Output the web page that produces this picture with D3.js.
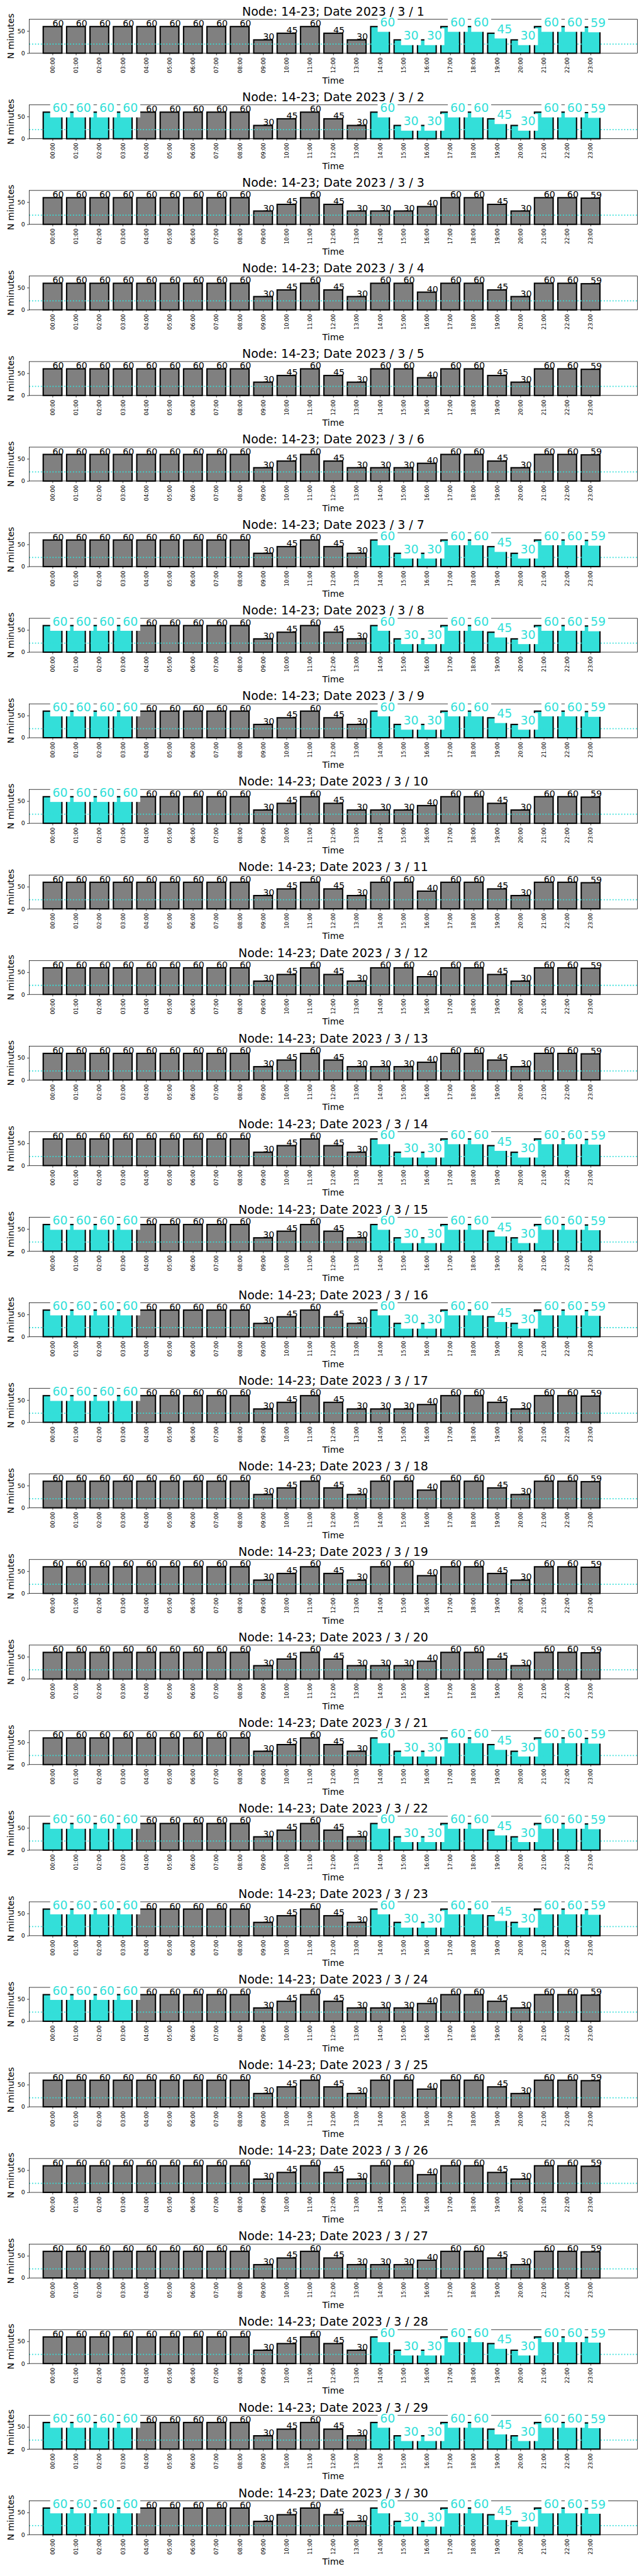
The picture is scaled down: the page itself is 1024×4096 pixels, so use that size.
<!DOCTYPE html>
<html><head><meta charset="utf-8">
<script src="https://cdn.jsdelivr.net/npm/d3@7"></script>
<style>body{margin:0;background:#fff} svg{display:block} text{font-family:"DejaVu Sans",sans-serif}</style>
</head><body>
<script>
// ---- data ----
const hours = ["00:00","01:00","02:00","03:00","04:00","05:00","06:00","07:00","08:00","09:00","10:00","11:00",
               "12:00","13:00","14:00","15:00","16:00","17:00","18:00","19:00","20:00","21:00","22:00","23:00"];
const node = "14-23";
const dayOfMonth = [1,2,3,4,5,6,7,8,9,10,11,12,13,14,15,16,17,18,19,20,21,22,23,24,25,26,27,28,29,30];
const minutes = [
  [60,60,60,60,60,60,60,60,60,30,45,60,45,30,60,30,30,60,60,45,30,60,60,59], // 1
  [60,60,60,60,60,60,60,60,60,30,45,60,45,30,60,30,30,60,60,45,30,60,60,59], // 2
  [60,60,60,60,60,60,60,60,60,30,45,60,45,30,30,30,40,60,60,45,30,60,60,59], // 3
  [60,60,60,60,60,60,60,60,60,30,45,60,45,30,60,60,40,60,60,45,30,60,60,59], // 4
  [60,60,60,60,60,60,60,60,60,30,45,60,45,30,60,60,40,60,60,45,30,60,60,59], // 5
  [60,60,60,60,60,60,60,60,60,30,45,60,45,30,30,30,40,60,60,45,30,60,60,59], // 6
  [60,60,60,60,60,60,60,60,60,30,45,60,45,30,60,30,30,60,60,45,30,60,60,59], // 7
  [60,60,60,60,60,60,60,60,60,30,45,60,45,30,60,30,30,60,60,45,30,60,60,59], // 8
  [60,60,60,60,60,60,60,60,60,30,45,60,45,30,60,30,30,60,60,45,30,60,60,59], // 9
  [60,60,60,60,60,60,60,60,60,30,45,60,45,30,30,30,40,60,60,45,30,60,60,59], // 10
  [60,60,60,60,60,60,60,60,60,30,45,60,45,30,60,60,40,60,60,45,30,60,60,59], // 11
  [60,60,60,60,60,60,60,60,60,30,45,60,45,30,60,60,40,60,60,45,30,60,60,59], // 12
  [60,60,60,60,60,60,60,60,60,30,45,60,45,30,30,30,40,60,60,45,30,60,60,59], // 13
  [60,60,60,60,60,60,60,60,60,30,45,60,45,30,60,30,30,60,60,45,30,60,60,59], // 14
  [60,60,60,60,60,60,60,60,60,30,45,60,45,30,60,30,30,60,60,45,30,60,60,59], // 15
  [60,60,60,60,60,60,60,60,60,30,45,60,45,30,60,30,30,60,60,45,30,60,60,59], // 16
  [60,60,60,60,60,60,60,60,60,30,45,60,45,30,30,30,40,60,60,45,30,60,60,59], // 17
  [60,60,60,60,60,60,60,60,60,30,45,60,45,30,60,60,40,60,60,45,30,60,60,59], // 18
  [60,60,60,60,60,60,60,60,60,30,45,60,45,30,60,60,40,60,60,45,30,60,60,59], // 19
  [60,60,60,60,60,60,60,60,60,30,45,60,45,30,30,30,40,60,60,45,30,60,60,59], // 20
  [60,60,60,60,60,60,60,60,60,30,45,60,45,30,60,30,30,60,60,45,30,60,60,59], // 21
  [60,60,60,60,60,60,60,60,60,30,45,60,45,30,60,30,30,60,60,45,30,60,60,59], // 22
  [60,60,60,60,60,60,60,60,60,30,45,60,45,30,60,30,30,60,60,45,30,60,60,59], // 23
  [60,60,60,60,60,60,60,60,60,30,45,60,45,30,30,30,40,60,60,45,30,60,60,59], // 24
  [60,60,60,60,60,60,60,60,60,30,45,60,45,30,60,60,40,60,60,45,30,60,60,59], // 25
  [60,60,60,60,60,60,60,60,60,30,45,60,45,30,60,60,40,60,60,45,30,60,60,59], // 26
  [60,60,60,60,60,60,60,60,60,30,45,60,45,30,30,30,40,60,60,45,30,60,60,59], // 27
  [60,60,60,60,60,60,60,60,60,30,45,60,45,30,60,30,30,60,60,45,30,60,60,59], // 28
  [60,60,60,60,60,60,60,60,60,30,45,60,45,30,60,30,30,60,60,45,30,60,60,59], // 29
  [60,60,60,60,60,60,60,60,60,30,45,60,45,30,60,30,30,60,60,45,30,60,60,59]  // 30
];
const eveningHours = [14,15,16,17,18,19,20,21,22,23];
const nightHours = [0,1,2,3];
const highlighted = [
  eveningHours, nightHours.concat(eveningHours), [], [], [], [], eveningHours,
  nightHours.concat(eveningHours), nightHours.concat(eveningHours), nightHours, [], [], [], eveningHours,
  nightHours.concat(eveningHours), nightHours.concat(eveningHours), nightHours, [], [], [], eveningHours,
  nightHours.concat(eveningHours), nightHours.concat(eveningHours), nightHours, [], [], [], eveningHours,
  nightHours.concat(eveningHours), nightHours.concat(eveningHours)
];
const threshold = 20.5;
const yTickValues = [0, 50];
const yMax = 76.4;

// ---- layout (reference pixel units, scaled to window) ----
const S = 0.682;
const CYAN = "#33dfd9", GRAY = "#808080";
const left = 68, right = 1486, axTop = 45, axH = 79, step = 199.5;
const cx = (left + right) / 2;

const svg = d3.select("body").append("svg").attr("width", 1024).attr("height", 4096);
svg.append("rect").attr("width", 1024).attr("height", 4096).attr("fill", "#fff");
const root = svg.append("g").attr("transform", `scale(${S})`);

const x = d3.scaleLinear().domain([-1, 25]).range([left, right]);
const y = d3.scaleLinear().domain([0, yMax]).range([axTop + axH, axTop]);
const bw = x(0.8) - x(0);

dayOfMonth.forEach((d, i) => {
  const g = root.append("g").attr("transform", `translate(0,${i * step})`);
  const vals = minutes[i];
  const hl = new Set(highlighted[i]);

  // bars
  g.selectAll("rect.bar").data(vals).join("rect").attr("class", "bar")
    .attr("x", (v, j) => x(j) - bw / 2).attr("width", bw)
    .attr("y", v => y(v)).attr("height", v => y(0) - y(v))
    .attr("fill", (v, j) => hl.has(j) ? CYAN : GRAY)
    .attr("stroke", "#000").attr("stroke-width", 3);

  // dotted threshold line
  g.append("line").attr("x1", left).attr("x2", right)
    .attr("y1", y(threshold)).attr("y2", y(threshold))
    .attr("stroke", CYAN).attr("stroke-width", 2.6).attr("stroke-dasharray", "2.6,4.2");

  // spines
  g.append("rect").attr("x", left).attr("y", axTop).attr("width", right - left).attr("height", axH)
    .attr("fill", "none").attr("stroke", "#000").attr("stroke-width", 1.1);

  // x axis
  const xa = g.append("g").attr("transform", `translate(0,${y(0)})`)
    .call(d3.axisBottom(x).tickValues(d3.range(24)).tickFormat(j => hours[j]).tickSize(4.9).tickPadding(4.9));
  xa.select(".domain").remove();
  xa.selectAll(".tick line").attr("stroke", "#000").attr("stroke-width", 1.1);
  xa.selectAll(".tick text").attr("transform", "rotate(-90)").attr("text-anchor", "end")
    .attr("x", -9.8).attr("y", 0).attr("dy", "0.35em")
    .attr("font-size", 12.7).attr("font-family", "DejaVu Sans").attr("fill", "#000");

  // y axis
  const ya = g.append("g").attr("transform", `translate(${left},0)`)
    .call(d3.axisLeft(y).tickValues(yTickValues).tickSize(4.9).tickPadding(4.9));
  ya.select(".domain").remove();
  ya.selectAll(".tick line").attr("stroke", "#000").attr("stroke-width", 1.1);
  ya.selectAll(".tick text").attr("font-size", 13.9).attr("font-family", "DejaVu Sans").attr("fill", "#000");

  // value labels
  vals.forEach((v, j) => {
    if (hl.has(j)) {
      const fs = 27.8, pad = 5.56;
      const t = g.append("text").attr("x", x(j)).attr("y", y(v))
        .attr("font-size", fs).attr("fill", CYAN).text(v);
      const w = t.node().getComputedTextLength();
      g.insert("rect", () => t.node())
        .attr("x", x(j) - pad).attr("width", w + 2 * pad)
        .attr("y", y(v) - 0.76 * fs - pad).attr("height", (0.76 + 0.24) * fs + 2 * pad)
        .attr("fill", "#fff");
    } else {
      g.append("text").attr("x", x(j)).attr("y", y(v))
        .attr("font-size", 20.8).attr("fill", "#000").text(v);
    }
  });

  // title and axis labels
  g.append("text").attr("x", cx).attr("y", 36.5).attr("text-anchor", "middle")
    .attr("font-size", 27.8).attr("fill", "#000").text(`Node: ${node}; Date 2023 / 3 / ${d}`);
  g.append("text").attr("x", cx).attr("y", 194.5).attr("text-anchor", "middle")
    .attr("font-size", 20.8).attr("fill", "#000").text("Time");
  g.append("text").attr("transform", `translate(32.5,${axTop + axH / 2}) rotate(-90)`)
    .attr("text-anchor", "middle").attr("font-size", 20.8).attr("fill", "#000").text("N minutes");
});
</script>
</body></html>
